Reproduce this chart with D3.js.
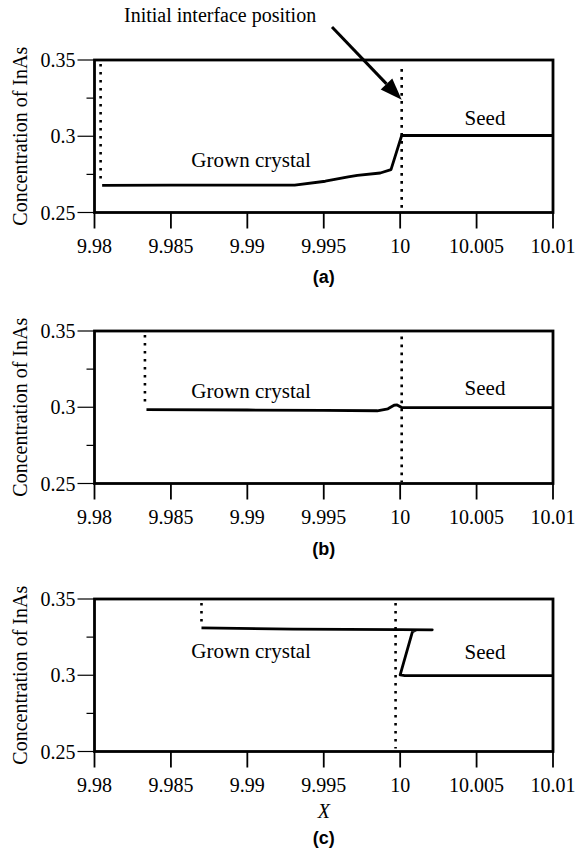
<!DOCTYPE html>
<meta charset="utf-8">
<script src="https://d3js.org/d3.v7.min.js"></script>
<style>
  body { margin: 0; background: #fff; }
</style>
<body>
<div id="my_dataviz"></div>
<script>

// axis ticks
var xTicks = [9.98, 9.985, 9.99, 9.995, 10, 10.005, 10.01]
var xTickLabels = ["9.98", "9.985", "9.99", "9.995", "10", "10.005", "10.01"]
var yTicks = [0.25, 0.3, 0.35]
var yTickLabels = ["0.25", "0.3", "0.35"]
var yMinorTicks = [0.275, 0.325]

// (a) concentration profile
var xA = [9.9805, 9.985, 9.99, 9.9931, 9.9951, 9.9966, 9.9972, 9.9987, 9.9994, 10.0001, 10.01]
var yA = [0.2678, 0.2679, 0.268, 0.268, 0.2705, 0.2733, 0.2744, 0.2759, 0.2781, 0.3005, 0.3005]
// (b)
var xB = [9.9834, 9.99, 9.995, 9.9985, 9.9992, 9.9996, 9.9998, 10.0001, 10.01]
var yB = [0.2985, 0.2982, 0.2979, 0.2977, 0.299, 0.3013, 0.3015, 0.2998, 0.2998]
// (c)
var xC = [9.987, 9.993, 10.0, 10.0021, 10.0011, 10.0008, 10.0, 10.0003, 10.01]
var yC = [0.331, 0.3303, 0.3299, 0.3298, 0.3298, 0.3285, 0.3003, 0.2998, 0.2998]

// dotted lines: [x, yTop, yBottom]
var dotsA = [[9.9804, 0.35, 0.2696], [10.0001, 0.3467, 0.252]]
var dotsB = [[9.9833, 0.35, 0.3001], [10.0001, 0.349, 0.251]]
var dotsC = [[9.987, 0.35, 0.3332], [9.9997, 0.35, 0.252]]

var width = 577, height = 851
var left = 94.5, right = 553, plotH = 152.5
var serif = "'Liberation Serif', 'Times New Roman', 'DejaVu Serif', serif"
var sans = "'Liberation Sans', Arial, sans-serif"

var svg = d3.select("#my_dataviz")
  .append("svg")
    .attr("width", width)
    .attr("height", height)
    .attr("font-family", serif)

var x = d3.scaleLinear().domain([9.98, 10.01]).range([left, right])

function panel(top, xs, ys, dots, tag, tagY, growY, seedY) {
  var y = d3.scaleLinear().domain([0.25, 0.35]).range([top + plotH, top])
  var g = svg.append("g")

  // y ticks (outside, left)
  g.selectAll(".ymaj").data(yTicks).enter().append("line")
    .attr("x1", left - 17).attr("x2", left)
    .attr("y1", function(d) { return y(d) }).attr("y2", function(d) { return y(d) })
    .attr("stroke", "#000").attr("stroke-width", 1.2)
  g.selectAll(".ymin").data(yMinorTicks).enter().append("line")
    .attr("x1", left - 8).attr("x2", left)
    .attr("y1", function(d) { return y(d) }).attr("y2", function(d) { return y(d) })
    .attr("stroke", "#000").attr("stroke-width", 1.2)
  g.selectAll(".ylab").data(yTicks).enter().append("text")
    .attr("x", left - 19)
    .attr("y", function(d) { return y(d) })
    .attr("dy", "0.35em")
    .attr("text-anchor", "end")
    .attr("font-family", serif)
    .attr("font-size", 20)
    .text(function(d, i) { return yTickLabels[i] })

  // x ticks (outside, below)
  g.selectAll(".xt").data(xTicks).enter().append("line")
    .attr("x1", function(d) { return x(d) }).attr("x2", function(d) { return x(d) })
    .attr("y1", top + plotH).attr("y2", top + plotH + 16)
    .attr("stroke", "#000").attr("stroke-width", 1.8)
  g.selectAll(".xlab").data(xTicks).enter().append("text")
    .attr("x", function(d) { return x(d) })
    .attr("y", top + plotH + 40)
    .attr("text-anchor", "middle")
    .attr("font-family", serif)
    .attr("font-size", 20)
    .text(function(d, i) { return xTickLabels[i] })

  // frame
  g.append("rect")
    .attr("x", left).attr("y", top)
    .attr("width", right - left).attr("height", plotH)
    .attr("fill", "none").attr("stroke", "#000").attr("stroke-width", 2.8)

  // dotted lines
  g.selectAll(".dot").data(dots).enter().append("line")
    .attr("x1", function(d) { return x(d[0]) }).attr("x2", function(d) { return x(d[0]) })
    .attr("y1", function(d) { return y(d[1]) + 4 }).attr("y2", function(d) { return y(d[2]) })
    .attr("stroke", "#000").attr("stroke-width", 2.6)
    .attr("stroke-dasharray", "2.6,5.4")

  // profile
  var pts = xs.map(function(v, i) { return [v, ys[i]] })
  g.append("path")
    .datum(pts)
    .attr("d", d3.line().x(function(d) { return x(d[0]) }).y(function(d) { return y(d[1]) }))
    .attr("fill", "none").attr("stroke", "#000").attr("stroke-width", 2.8)
    .attr("stroke-linejoin", "round")

  // labels
  g.append("text").attr("x", x(9.99025)).attr("y", growY)
    .attr("text-anchor", "middle").attr("font-family", serif).attr("font-size", 21)
    .text("Grown crystal")
  g.append("text").attr("x", x(10.00555)).attr("y", seedY)
    .attr("text-anchor", "middle").attr("font-family", serif).attr("font-size", 21)
    .text("Seed")

  g.append("text")
    .attr("transform", "translate(27," + (top + plotH / 2) + ") rotate(-90)")
    .attr("text-anchor", "middle")
    .attr("font-family", serif)
    .attr("font-size", 20)
    .text("Concentration of InAs")

  g.append("text")
    .attr("x", (left + right) / 2).attr("y", tagY)
    .attr("text-anchor", "middle")
    .attr("font-family", sans).attr("font-weight", "bold").attr("font-size", 18)
    .text(tag)

  return y
}

var yA_s = panel(60, xA, yA, dotsA, "(a)", 283, 167, 125)
panel(331, xB, yB, dotsB, "(b)", 555, 398, 395)
panel(599, xC, yC, dotsC, "(c)", 844, 658, 659)

// x axis title for the last panel
svg.append("text")
  .attr("x", (left + right) / 2).attr("y", 818)
  .attr("text-anchor", "middle")
  .attr("font-family", serif).attr("font-size", 20).attr("font-style", "italic")
  .text("X")

// annotation with arrow in panel (a)
svg.append("text")
  .attr("x", 124).attr("y", 22)
  .attr("font-family", serif).attr("font-size", 20)
  .text("Initial interface position")

var tipX = x(10.0001), tipY = yA_s(0.3239)
var sx = 332, sy = 27
var ang = Math.atan2(tipY - sy, tipX - sx)
var headL = 22, headW = 8
var bx = tipX - headL * Math.cos(ang), by = tipY - headL * Math.sin(ang)
svg.append("line")
  .attr("x1", sx).attr("y1", sy).attr("x2", bx).attr("y2", by)
  .attr("stroke", "#000").attr("stroke-width", 3)
svg.append("path")
  .attr("d", "M" + tipX + "," + tipY +
    "L" + (bx + headW * Math.sin(ang)) + "," + (by - headW * Math.cos(ang)) +
    "L" + (bx - headW * Math.sin(ang)) + "," + (by + headW * Math.cos(ang)) + "Z")
  .attr("fill", "#000")

</script>
</body>
</html>
